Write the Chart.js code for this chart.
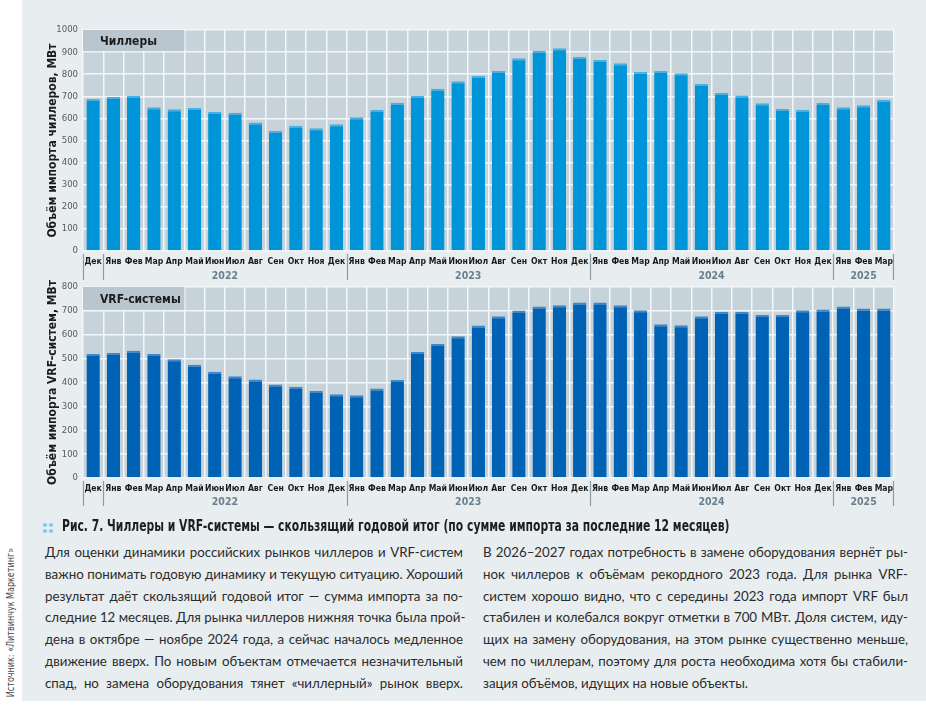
<!DOCTYPE html>
<html>
<head>
<meta charset="utf-8">
<script src="https://cdn.jsdelivr.net/npm/chart.js@4.4.1/dist/chart.umd.min.js"></script>
<style>
  html, body { margin: 0; padding: 0; background: #ffffff; }
  body { width: 926px; height: 708px; position: relative; overflow: hidden; }
  #panel { position: absolute; left: 22px; top: 0; width: 904px; height: 701px; background: #e8edf0; }
  .chart-box { position: absolute; left: 22px; width: 904px; }
  #boxChillers { top: 0; height: 290px; }
  #boxVrf { top: 275px; height: 240px; }
  .caption { position: absolute; left: 62px; top: 517px; font: bold 15px "DejaVu Sans Condensed", sans-serif; color: #1e1e1e;
             white-space: nowrap; transform: scaleX(0.8); transform-origin: 0 0; }
  .dots { position: absolute; left: 43px; top: 523px; width: 10px; height: 10px; }
  .dots span { position: absolute; width: 4px; height: 4px; border-radius: 2px; background: #86c8ea; }
  .col { position: absolute; top: 542px; font: 13.3px Lato, "Open Sans", sans-serif; color: #2b2b2b; line-height: 21.8px; }
  .col div { white-space: nowrap; text-align: justify; text-align-last: justify; }
  .col div.last { text-align-last: left; }
  #colLeft { left: 45px; width: 418px; }
  #colRight { left: 483px; width: 425px; }
  .source { position: absolute; left: -62px; top: 630px; width: 144px; text-align: center; transform: rotate(-90deg) scaleX(0.85);
            font: 10.5px "DejaVu Sans Condensed", sans-serif; color: #4a4a4a; white-space: nowrap; }
</style>
</head>
<body>
<div id="panel"></div>
<div class="chart-box" id="boxChillers"><canvas id="chillersChart"></canvas></div>
<div class="chart-box" id="boxVrf"><canvas id="vrfChart"></canvas></div>

<div class="dots"><span style="left:0;top:0"></span><span style="left:6px;top:0"></span><span style="left:0;top:6px"></span><span style="left:6px;top:6px"></span></div>
<div class="caption">Рис. 7. Чиллеры и VRF-системы — скользящий годовой итог (по сумме импорта за последние 12 месяцев)</div>

<div class="col" id="colLeft">
  <div>Для оценки динамики российских рынков чиллеров и VRF-систем</div>
  <div>важно понимать годовую динамику и текущую ситуацию. Хороший</div>
  <div>результат даёт скользящий годовой итог — сумма импорта за по-</div>
  <div>следние 12 месяцев. Для рынка чиллеров нижняя точка была прой-</div>
  <div>дена в октябре — ноябре 2024 года, а сейчас началось медленное</div>
  <div>движение вверх. По новым объектам отмечается незначительный</div>
  <div>спад, но замена оборудования тянет «чиллерный» рынок вверх.</div>
</div>
<div class="col" id="colRight">
  <div>В 2026–2027 годах потребность в замене оборудования вернёт ры-</div>
  <div>нок чиллеров к объёмам рекордного 2023 года. Для рынка VRF-</div>
  <div>систем хорошо видно, что с середины 2023 года импорт VRF был</div>
  <div>стабилен и колебался вокруг отметки в 700 МВт. Доля систем, иду-</div>
  <div>щих на замену оборудования, на этом рынке существенно меньше,</div>
  <div>чем по чиллерам, поэтому для роста необходима хотя бы стабили-</div>
  <div class="last">зация объёмов, идущих на новые объекты.</div>
</div>

<div class="source">Источник: «Литвинчук Маркетинг»</div>

<script>
// === DATA ===
var MONTHS = [
  'Дек',
  'Янв', 'Фев', 'Мар', 'Апр', 'Май', 'Июн', 'Июл', 'Авг', 'Сен', 'Окт', 'Ноя', 'Дек',
  'Янв', 'Фев', 'Мар', 'Апр', 'Май', 'Июн', 'Июл', 'Авг', 'Сен', 'Окт', 'Ноя', 'Дек',
  'Янв', 'Фев', 'Мар', 'Апр', 'Май', 'Июн', 'Июл', 'Авг', 'Сен', 'Окт', 'Ноя', 'Дек',
  'Янв', 'Фев', 'Мар'
];
var YEAR_LABELS = ['', '2022', '2023', '2024', '2025'];
var YEAR_SPANS = [1, 12, 12, 12, 3];

// Chillers, MW (rolling 12-month import)
var CHILLERS = [
  688,
  697, 701, 650, 641, 647, 629, 626, 582, 543, 567, 555, 573,
  605, 638, 671, 701, 734, 768, 792, 814, 872, 906, 917, 878,
  864, 849, 811, 814, 804, 756, 715, 704, 668, 643, 639, 670,
  650, 659, 683
];
// VRF systems, MW
var VRF = [
  519,
  524, 533, 519, 497, 474, 445, 426, 413, 392, 381, 364, 351,
  347, 375, 410, 528, 561, 594, 639, 677, 702, 718, 724, 735,
  735, 724, 703, 644, 640, 677, 696, 696, 683, 683, 703, 706,
  718, 710, 710
];
var CHILLERS_AXIS = [0, 1000, 100];
var VRF_AXIS = [0, 800, 100];

var CONDENSED = '"DejaVu Sans Condensed", sans-serif';

// === PLUGIN: plot background, name box, year row ===
var panelPlugin = {
  id: 'panel',
  beforeDraw: function(chart, args, opts) {
    var a = chart.chartArea, ctx = chart.ctx;
    ctx.save();
    ctx.fillStyle = '#c6d3db';
    ctx.fillRect(a.left, a.top, a.right - a.left, a.bottom - a.top);
    ctx.restore();
  },
  beforeDatasetsDraw: function(chart, args, opts) {
    var x = chart.scales.x, y = chart.scales.y, ctx = chart.ctx;
    var half = (x.getPixelForValue(1) - x.getPixelForValue(0)) / 2;
    var left = chart.chartArea.left;
    var right = x.getPixelForValue(opts.boxSpan - 1) + half;
    var top = y.getPixelForValue(opts.boxRange[1]);
    var bottom = y.getPixelForValue(opts.boxRange[0]) - 1;
    ctx.save();
    ctx.fillStyle = '#b9c6cf';
    ctx.fillRect(left, top, right - left, bottom - top);
    ctx.fillStyle = '#1c1c1c';
    ctx.font = 'bold 12px ' + CONDENSED;
    ctx.textBaseline = 'middle';
    ctx.fillText(opts.title, left + 17, (top + bottom) / 2 + 1);
    ctx.restore();
  },
  afterDraw: function(chart, args, opts) {
    var x = chart.scales.x, ctx = chart.ctx;
    var half = (x.getPixelForValue(1) - x.getPixelForValue(0)) / 2;
    var bottom = chart.chartArea.bottom;
    ctx.save();
    ctx.strokeStyle = '#8c9ca7';
    ctx.lineWidth = 1.2;
    ctx.fillStyle = '#6a7f8e';
    ctx.font = 'bold 10.5px ' + CONDENSED;
    ctx.textAlign = 'center';
    ctx.textBaseline = 'middle';
    var start = 0;
    for (var i = 0; i < YEAR_SPANS.length; i++) {
      var end = start + YEAR_SPANS[i] - 1;
      var x0 = x.getPixelForValue(start) - half;
      var x1 = x.getPixelForValue(end) + half;
      // separator at group start
      ctx.beginPath();
      ctx.moveTo(Math.round(x0) + 0.5, bottom + 3);
      ctx.lineTo(Math.round(x0) + 0.5, bottom + opts.sepBottom);
      ctx.stroke();
      if (i === YEAR_SPANS.length - 1) {
        ctx.beginPath();
        ctx.moveTo(Math.round(x1) - 0.5, bottom + 3);
        ctx.lineTo(Math.round(x1) - 0.5, bottom + opts.sepBottom);
        ctx.stroke();
      }
      if (YEAR_LABELS[i]) ctx.fillText(YEAR_LABELS[i], (x0 + x1) / 2, bottom + opts.yearOffset);
      start = end + 1;
    }
    ctx.restore();
  }
};

function buildChart(canvasId, values, axis, color, edge, yTitle, boxTitle, layoutTop, xHeight, yearOffset, sepBottom) {
  var ctx = document.getElementById(canvasId).getContext('2d');
  return new Chart(ctx, {
    type: 'bar',
    data: {
      labels: MONTHS,
      datasets: [{
        data: values,
        backgroundColor: color,
        borderColor: edge,
        borderWidth: { top: 2, left: 0, right: 0, bottom: 0 },
        borderSkipped: false,
        categoryPercentage: 1,
        barPercentage: 0.66
      }]
    },
    plugins: [panelPlugin],
    options: {
      responsive: true, maintainAspectRatio: false, animation: false,
      layout: { padding: { top: layoutTop, right: 32, left: 0, bottom: 0 } },
      plugins: {
        legend: { display: false },
        tooltip: { enabled: false },
        panel: { title: boxTitle, boxSpan: 5, boxRange: [axis[1] - axis[2], axis[1]], yearOffset: yearOffset, sepBottom: sepBottom }
      },
      scales: {
        x: {
          grid: { color: '#f4f7f9', lineWidth: 1.5, drawTicks: false, offset: true },
          border: { display: false },
          ticks: { color: '#1a1a1a', font: { family: CONDENSED, size: 8.6, weight: 'bold' }, padding: 6, maxRotation: 0, autoSkip: false },
          afterFit: function(s) { s.height = xHeight; }
        },
        y: {
          min: axis[0], max: axis[1],
          grid: { color: '#f4f7f9', lineWidth: 1.5, drawTicks: false },
          border: { display: false },
          ticks: { stepSize: axis[2], color: '#555a5e', font: { family: CONDENSED, size: 9.5 }, padding: 5,
                   callback: function(v) { return String(v); } },
          title: { display: true, text: yTitle, color: '#1c1c1c', font: { family: CONDENSED, size: 12, weight: 'bold' }, padding: { top: 24, bottom: 0 } },
          afterFit: function(s) { s.width = 61; }
        }
      }
    }
  });
}

// === CHARTS ===
buildChart('chillersChart', CHILLERS, CHILLERS_AXIS, '#0094d8', '#4aaee0',
  'Объём импорта чиллеров, МВт', 'Чиллеры', 30, 39, 25, 29);
buildChart('vrfChart', VRF, VRF_AXIS, '#0062b4', '#3f87c8',
  'Объём импорта VRF-систем, МВт', 'VRF-системы', 12, 37, 24, 28);
</script>
</body>
</html>
